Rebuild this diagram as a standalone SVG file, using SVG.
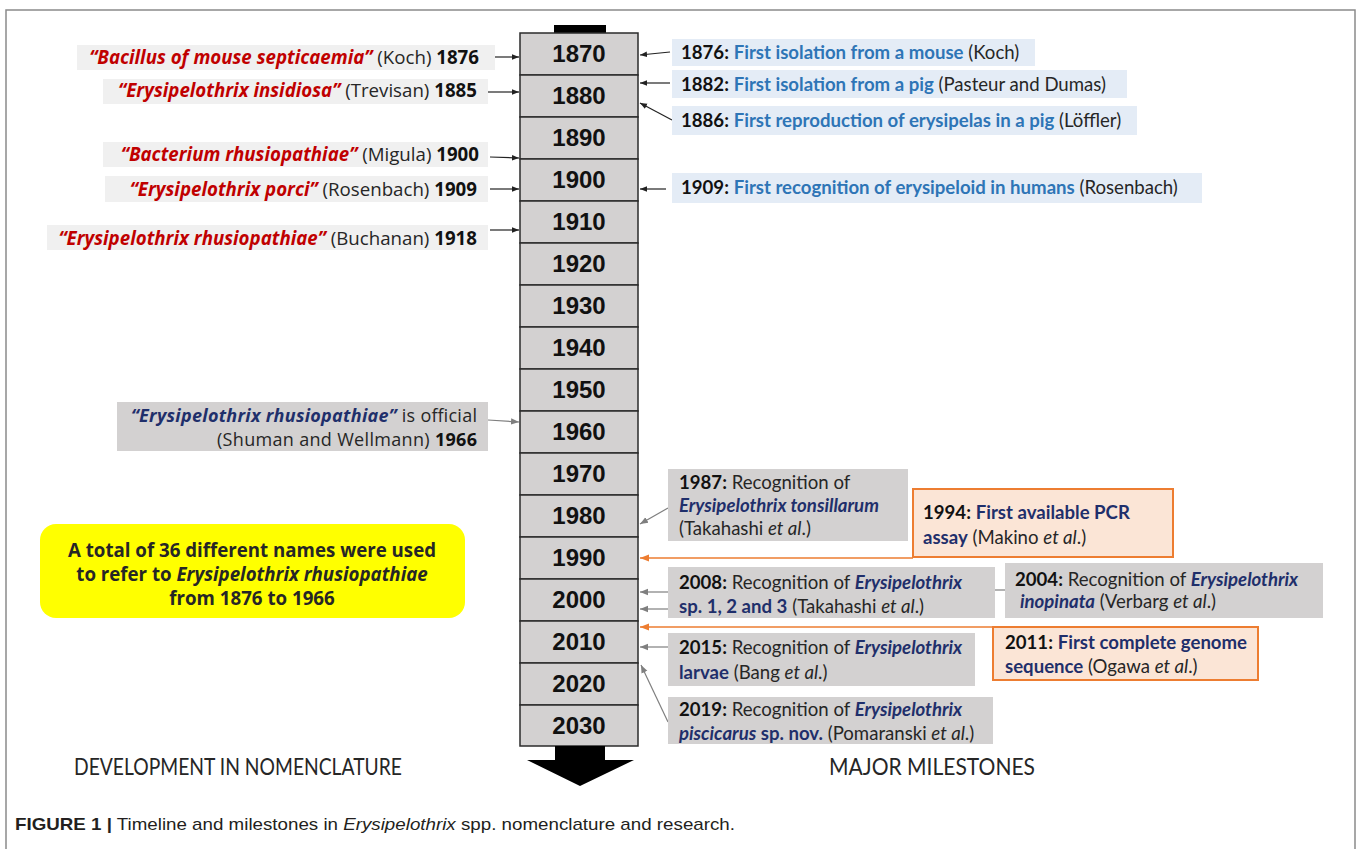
<svg xmlns="http://www.w3.org/2000/svg" width="1357" height="849" viewBox="0 0 1357 849">
<style>
.lab{font-family:"Open Sans",Lato,sans-serif;font-size:18.7px;fill:#262626}
.lab2{font-family:"Open Sans",Lato,sans-serif;font-size:18px;fill:#262626}
.ms{font-family:Lato,"Open Sans",sans-serif;font-size:18.6px;fill:#262626}
.r{fill:#c00000;font-weight:bold;font-style:italic}
.b{font-weight:bold;fill:#111}
.i{font-style:italic}
.nv{fill:#1f2f6b;font-weight:bold}
.nvi{fill:#1f2f6b;font-weight:bold;font-style:italic}
.bl{fill:#2e75b6;font-weight:bold}
.yr{font-family:"Liberation Sans",Arial,sans-serif;font-weight:bold;font-size:24px;text-anchor:middle;fill:#111}
.yb{fill:#d3d1d1;stroke:#2b2b2b;stroke-width:1.5}
.lg{fill:#f0f0f0}
.lb{fill:#e4ecf6}
.gb{fill:#d3d1d1}
.ob{fill:#fbe5d6;stroke:#ed7d31;stroke-width:2}
.ak{stroke:#222;stroke-width:1.2;fill:none}
.ag{stroke:#7f7f7f;stroke-width:1.2;fill:none}
.ao{stroke:#ed7d31;stroke-width:1.5;fill:none}
.hd{font-family:Lato,"Open Sans",sans-serif;font-size:23px;fill:#262626;text-anchor:middle}
.cap{font-family:"Liberation Sans",Arial,sans-serif;font-size:17px;fill:#231f20}
</style>
<defs>
<marker id="mk" viewBox="0 0 10 10" refX="10" refY="5" markerWidth="7" markerHeight="7" orient="auto" markerUnits="userSpaceOnUse"><path d="M0,1 L10,5 L0,9 z" fill="#222"/></marker>
<marker id="mg" viewBox="0 0 10 10" refX="10" refY="5" markerWidth="8" markerHeight="8" orient="auto" markerUnits="userSpaceOnUse"><path d="M0,1 L10,5 L0,9 z" fill="#7f7f7f"/></marker>
<marker id="mo" viewBox="0 0 10 10" refX="10" refY="5" markerWidth="9" markerHeight="9" orient="auto" markerUnits="userSpaceOnUse"><path d="M0,1 L10,5 L0,9 z" fill="#ed7d31"/></marker>
</defs>
<rect x="6" y="10" width="1349" height="850" fill="#fff" stroke="#8a8a8a" stroke-width="1.5"/>

<g id="timeline">
<rect x="554" y="25" width="52" height="8" fill="#000"/>
<rect class="yb" x="520" y="33" width="118" height="42"/><text class="yr" x="579" y="62">1870</text>
<rect class="yb" x="520" y="75" width="118" height="42"/><text class="yr" x="579" y="104">1880</text>
<rect class="yb" x="520" y="117" width="118" height="42"/><text class="yr" x="579" y="146">1890</text>
<rect class="yb" x="520" y="159" width="118" height="42"/><text class="yr" x="579" y="188">1900</text>
<rect class="yb" x="520" y="201" width="118" height="42"/><text class="yr" x="579" y="230">1910</text>
<rect class="yb" x="520" y="243" width="118" height="42"/><text class="yr" x="579" y="272">1920</text>
<rect class="yb" x="520" y="285" width="118" height="42"/><text class="yr" x="579" y="314">1930</text>
<rect class="yb" x="520" y="327" width="118" height="42"/><text class="yr" x="579" y="356">1940</text>
<rect class="yb" x="520" y="369" width="118" height="42"/><text class="yr" x="579" y="398">1950</text>
<rect class="yb" x="520" y="411" width="118" height="42"/><text class="yr" x="579" y="440">1960</text>
<rect class="yb" x="520" y="453" width="118" height="42"/><text class="yr" x="579" y="482">1970</text>
<rect class="yb" x="520" y="495" width="118" height="42"/><text class="yr" x="579" y="524">1980</text>
<rect class="yb" x="520" y="537" width="118" height="42"/><text class="yr" x="579" y="566">1990</text>
<rect class="yb" x="520" y="579" width="118" height="42"/><text class="yr" x="579" y="608">2000</text>
<rect class="yb" x="520" y="621" width="118" height="42"/><text class="yr" x="579" y="650">2010</text>
<rect class="yb" x="520" y="663" width="118" height="42"/><text class="yr" x="579" y="692">2020</text>
<rect class="yb" x="520" y="705" width="118" height="41"/><text class="yr" x="579" y="734">2030</text>
<polygon points="555,746 605,746 605,760 634,760 580,786 527,760 555,760" fill="#000"/>
</g>

<g id="connectors">
<line class="ak" x1="490" y1="57" x2="519" y2="57" marker-end="url(#mk)"/>
<line class="ak" x1="488" y1="92" x2="519" y2="92" marker-end="url(#mk)"/>
<line class="ak" x1="490" y1="157" x2="519" y2="158" marker-end="url(#mk)"/>
<line class="ak" x1="490" y1="189" x2="519" y2="189" marker-end="url(#mk)"/>
<line class="ak" x1="490" y1="230" x2="519" y2="230" marker-end="url(#mk)"/>
<line class="ag" x1="488" y1="420" x2="519" y2="422" marker-end="url(#mg)"/>
<line class="ak" x1="670" y1="52" x2="640" y2="55" marker-end="url(#mk)"/>
<line class="ak" x1="670" y1="83" x2="640" y2="83" marker-end="url(#mk)"/>
<line class="ak" x1="672" y1="120" x2="640" y2="103" marker-end="url(#mk)"/>
<line class="ak" x1="666" y1="189" x2="640" y2="189" marker-end="url(#mk)"/>
<line class="ag" x1="668" y1="508" x2="640" y2="524" marker-end="url(#mg)"/>
<line class="ao" x1="913" y1="558" x2="640" y2="558" marker-end="url(#mo)"/>
<line class="ag" x1="668" y1="592" x2="640" y2="592" marker-end="url(#mg)"/>
<line class="ag" x1="995" y1="590" x2="1005" y2="590"/>
<line class="ag" x1="668" y1="609" x2="640" y2="609" marker-end="url(#mg)"/>
<line class="ao" x1="993" y1="627" x2="640" y2="627" marker-end="url(#mo)"/>
<line class="ag" x1="668" y1="647" x2="640" y2="647" marker-end="url(#mg)"/>
<line class="ag" x1="668" y1="722" x2="641" y2="665" marker-end="url(#mg)"/>
</g>

<g id="n1876"><rect class="lg" x="77" y="45" width="418" height="25"/><text class="lab" x="479" y="64" text-anchor="end"><tspan class="r">“Bacillus of mouse septicaemia”</tspan> (Koch) <tspan class="b">1876</tspan></text></g>
<g id="n1885"><rect class="lg" x="103" y="79" width="385" height="25"/><text class="lab" x="477" y="97" text-anchor="end"><tspan class="r">“Erysipelothrix insidiosa”</tspan> (Trevisan) <tspan class="b">1885</tspan></text></g>
<g id="n1900"><rect class="lg" x="103" y="142" width="385" height="25"/><text class="lab" x="479" y="161" text-anchor="end"><tspan class="r">“Bacterium rhusiopathiae”</tspan> (Migula) <tspan class="b">1900</tspan></text></g>
<g id="n1909"><rect class="lg" x="105" y="176" width="383" height="26"/><text class="lab" x="477" y="196" text-anchor="end"><tspan class="r">“Erysipelothrix porci”</tspan> (Rosenbach) <tspan class="b">1909</tspan></text></g>
<g id="n1918"><rect class="lg" x="47" y="225" width="441" height="25"/><text class="lab" x="477" y="245" text-anchor="end"><tspan class="r">“Erysipelothrix rhusiopathiae”</tspan> (Buchanan) <tspan class="b">1918</tspan></text></g>

<g id="n1966"><rect class="gb" x="117" y="402" width="371" height="49"/>
<text class="lab2" x="477" y="422" text-anchor="end" textLength="346"><tspan class="nvi">“Erysipelothrix rhusiopathiae”</tspan> is official</text>
<text class="lab2" x="477" y="446" text-anchor="end" textLength="260">(Shuman and Wellmann) <tspan class="b">1966</tspan></text></g>

<g id="total"><rect x="40" y="524" width="425" height="94" rx="16" fill="#ffff00"/>
<text class="lab" x="252" y="557" text-anchor="middle" font-weight="bold" fill="#111">A total of 36 different names were used</text>
<text class="lab" x="252" y="581" text-anchor="middle" font-weight="bold" fill="#111">to refer to <tspan class="i">Erysipelothrix rhusiopathiae</tspan></text>
<text class="lab" x="252" y="605" text-anchor="middle" font-weight="bold" fill="#111">from 1876 to 1966</text></g>

<g id="m1876"><rect class="lb" x="672" y="39" width="363" height="27"/><text class="ms" x="681" y="59"><tspan class="b">1876:</tspan> <tspan class="bl">First isolation from a mouse</tspan> (Koch)</text></g>
<g id="m1882"><rect class="lb" x="672" y="70" width="455" height="28"/><text class="ms" x="681" y="91"><tspan class="b">1882:</tspan> <tspan class="bl">First isolation from a pig</tspan> (Pasteur and Dumas)</text></g>
<g id="m1886"><rect class="lb" x="672" y="106" width="465" height="29"/><text class="ms" x="681" y="127"><tspan class="b">1886:</tspan> <tspan class="bl">First reproduction of erysipelas in a pig</tspan> (Löffler)</text></g>
<g id="m1909"><rect class="lb" x="672" y="173" width="530" height="30"/><text class="ms" x="681" y="194"><tspan class="b">1909:</tspan> <tspan class="bl">First recognition of erysipeloid in humans</tspan> (Rosenbach)</text></g>

<g id="m1987"><rect class="gb" x="668" y="469" width="240" height="72"/>
<text class="ms" x="679" y="489"><tspan class="b">1987:</tspan> Recognition of</text>
<text class="ms" x="679" y="512"><tspan class="nvi">Erysipelothrix tonsillarum</tspan></text>
<text class="ms" x="679" y="535">(Takahashi <tspan class="i">et al</tspan>.)</text></g>

<g id="m1994"><rect class="ob" x="913" y="489" width="260" height="68"/>
<text class="ms" x="923" y="519"><tspan class="b">1994:</tspan> <tspan class="nv">First available PCR</tspan></text>
<text class="ms" x="923" y="544"><tspan class="nv">assay</tspan> (Makino <tspan class="i">et al</tspan>.)</text></g>

<g id="m2008"><rect class="gb" x="668" y="567" width="327" height="51"/>
<text class="ms" x="679" y="589"><tspan class="b">2008:</tspan> Recognition of <tspan class="nvi">Erysipelothrix</tspan></text>
<text class="ms" x="679" y="613"><tspan class="nv">sp. 1, 2 and 3</tspan> (Takahashi <tspan class="i">et al</tspan>.)</text></g>

<g id="m2004"><rect class="gb" x="1005" y="563" width="318" height="55"/>
<text class="ms" x="1015" y="586"><tspan class="b">2004:</tspan> Recognition of <tspan class="nvi">Erysipelothrix</tspan></text>
<text class="ms" x="1020" y="608"><tspan class="nvi">inopinata</tspan> (Verbarg <tspan class="i">et al</tspan>.)</text></g>

<g id="m2011"><rect class="ob" x="993" y="627" width="265" height="53"/>
<text class="ms" x="1005" y="649"><tspan class="b">2011:</tspan> <tspan class="nv">First complete genome</tspan></text>
<text class="ms" x="1005" y="673"><tspan class="nv">sequence</tspan> (Ogawa <tspan class="i">et al</tspan>.)</text></g>

<g id="m2015"><rect class="gb" x="668" y="633" width="307" height="53"/>
<text class="ms" x="679" y="654"><tspan class="b">2015:</tspan> Recognition of <tspan class="nvi">Erysipelothrix</tspan></text>
<text class="ms" x="679" y="679"><tspan class="nv">larvae</tspan> (Bang <tspan class="i">et al</tspan>.)</text></g>

<g id="m2019"><rect class="gb" x="668" y="697" width="325" height="47"/>
<text class="ms" x="679" y="716"><tspan class="b">2019:</tspan> Recognition of <tspan class="nvi">Erysipelothrix</tspan></text>
<text class="ms" x="679" y="740"><tspan class="nvi">piscicarus</tspan><tspan class="nv"> sp. nov.</tspan> (Pomaranski <tspan class="i">et al</tspan>.)</text></g>

<g id="headings">
<text class="hd" x="238" y="775" textLength="328" lengthAdjust="spacingAndGlyphs">DEVELOPMENT IN NOMENCLATURE</text>
<text class="hd" x="932" y="775" textLength="206" lengthAdjust="spacingAndGlyphs">MAJOR MILESTONES</text>
</g>
<text class="cap" x="15" y="830" textLength="720" lengthAdjust="spacingAndGlyphs"><tspan font-weight="bold">FIGURE 1 |</tspan> Timeline and milestones in <tspan font-style="italic">Erysipelothrix</tspan> spp. nomenclature and research.</text>
</svg>
